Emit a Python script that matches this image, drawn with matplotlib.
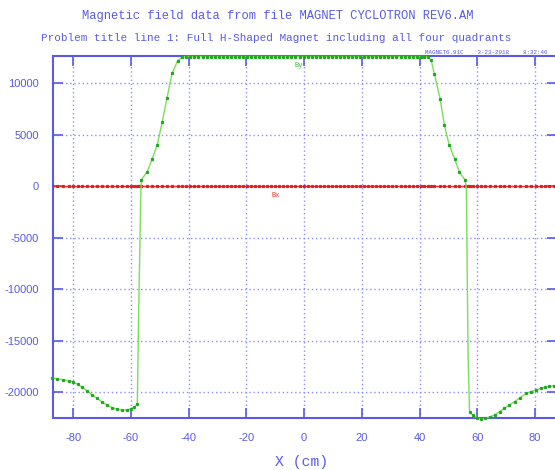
import matplotlib
matplotlib.use("Agg")
import matplotlib.pyplot as plt

plt.rcParams["axes.unicode_minus"] = False

title1 = "Magnetic field data from file MAGNET CYCLOTRON REV6.AM"
title2 = "Problem title line 1: Full H-Shaped Magnet including all four quadrants"
stamp = "MAGNET6.91C    3-23-2018    8:32:46"
xlabel = "X (cm)"

xticks = [-80, -60, -40, -20, 0, 20, 40, 60, 80]
yticks = [-20000, -15000, -10000, -5000, 0, 5000, 10000]

by_x = [-87.5, -85.5, -83.5, -81.5, -80.0, -78.5, -77.0, -75.3, -73.5, -71.8,
        -70.0, -68.3, -66.6, -64.8, -63.1, -61.5, -60.0, -58.8, -57.8, -57.3,
        -56.6, -56.4, -54.4, -52.7, -50.9, -49.2, -47.5, -45.7, -43.8, -42.2,
        -40.8, -39.4, -38.0, -36.6, -35.2, -33.8, -32.4, -31.0, -29.6, -28.2,
        -26.8, -25.4, -24.0, -22.6, -21.2, -19.8, -18.4, -17.0, -15.6, -14.2,
        -12.8, -11.4, -10.0, -8.6, -7.2, -5.8, -4.4, -3.0, -1.6, -0.2,
        1.2, 2.6, 4.0, 5.4, 6.8, 8.2, 9.6, 11.0, 12.4, 13.8,
        15.2, 16.6, 18.0, 19.4, 20.8, 22.2, 23.6, 25.0, 26.4, 27.8,
        29.2, 30.6, 32.0, 33.4, 34.8, 36.2, 37.6, 39.0, 40.4, 41.6,
        42.8, 44.0, 45.1, 47.1, 48.6, 50.3, 52.1, 53.8, 55.8, 56.2,
        56.8, 57.3, 58.5, 60.0, 61.3, 62.8, 64.4, 66.0, 67.7, 69.4,
        71.1, 72.9, 74.8, 76.9, 78.6, 80.4, 82.0, 83.5, 85.0, 86.5, 88.0]
by_y = [-18600, -18700, -18800, -18900, -19000, -19250, -19500, -19850, -20250, -20600,
        -20950, -21250, -21500, -21680, -21750, -21730, -21620, -21450, -21200, -12000,
        -1000, 600, 1400, 2600, 4000, 6200, 8600, 11000, 12200, 12560,
        12600, 12600, 12600, 12600, 12600, 12600, 12600, 12600, 12600, 12600,
        12600, 12600, 12600, 12600, 12600, 12600, 12600, 12600, 12600, 12600,
        12600, 12600, 12600, 12600, 12600, 12600, 12600, 12600, 12600, 12600,
        12600, 12600, 12600, 12600, 12600, 12600, 12600, 12600, 12600, 12600,
        12600, 12600, 12600, 12600, 12600, 12600, 12600, 12600, 12600, 12600,
        12600, 12600, 12600, 12600, 12600, 12600, 12600, 12600, 12600, 12600,
        12580, 12230, 10940, 8510, 5920, 3980, 2690, 1390, 580, -200,
        -16500, -21950, -22250, -22500, -22600, -22550, -22400, -22230, -21900, -21580,
        -21250, -20940, -20550, -20130, -19950, -19800, -19620, -19520, -19450, -19400, -19380]

bx_x = by_x
bx_y = [0] * len(by_x)

# points lying on the steep drops carry no visible marker in the original
no_marker = {19, 20, 99, 100}
by_marks = [i for i in range(len(by_x)) if i not in no_marker]

blue = "#5a5ae6"
fig = plt.figure(figsize=(5.55, 4.70), dpi=100)
ax = fig.add_axes([53/555, 52/470, 503.7/555, 362/470])

ax.set_xlim(-87.0, 87.5)
ax.set_ylim(-22520, 12650)

ax.set_xticks(xticks)
ax.set_yticks(yticks)
ax.grid(True, color="#8c8cff", linestyle=(0, (1, 2)), linewidth=1.0)
ax.set_axisbelow(True)

ax.plot(bx_x, bx_y, color="#ff3030", linewidth=1.0, marker="s", markersize=1.3,
        markerfacecolor="#dd2020", markeredgecolor="#dd2020", zorder=3)
ax.plot(by_x, by_y, color="#78e058", linewidth=1.0, marker="s", markersize=1.3,
        markerfacecolor="#20a820", markeredgecolor="#20a820", markevery=by_marks,
        zorder=4, clip_on=False)

for s in ax.spines.values():
    s.set_color(blue)
    s.set_linewidth(1.5)

ax.tick_params(axis="both", direction="in", length=7, width=1.2, color=blue,
               labelcolor=blue, labelsize=8, top=True, right=True)
ax.tick_params(axis="y", pad=10)
ax.tick_params(axis="x", pad=11)
for lab in ax.get_xticklabels() + ax.get_yticklabels():
    lab.set_family("Liberation Sans")

ax.text(-9.8, -870, "Bx", color="#ff3030", fontsize=5, ha="center", va="center",
        family="Liberation Mono")
ax.text(-1.7, 11750, "By", color="#30c030", fontsize=5, ha="center", va="center",
        family="Liberation Mono")

fig.text(278/555, 1 - 16/470, title1, color=blue, fontsize=8.7, ha="center", va="center",
         family="Liberation Mono")
fig.text(276/555, 1 - 38/470, title2, color=blue, fontsize=7.9, ha="center", va="center",
         family="Liberation Mono")
fig.text(425/555, 1 - 55/470, stamp, color=blue, fontsize=4.2, ha="left", va="bottom",
         family="Liberation Mono")
fig.text(302/555, 1 - 462/470, xlabel, color=blue, fontsize=10.6, ha="center", va="center",
         family="Liberation Mono")

fig.savefig("out.png", dpi=100)
